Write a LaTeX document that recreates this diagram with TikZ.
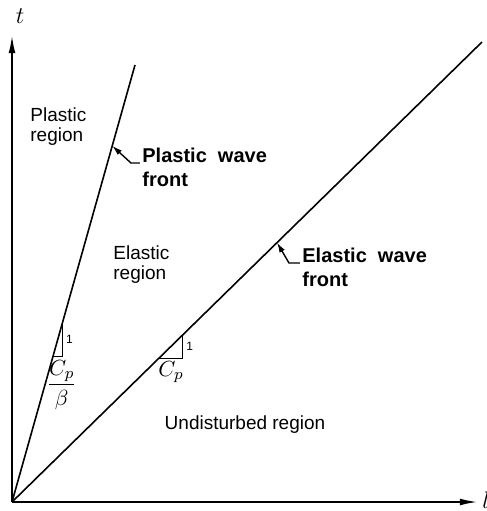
\documentclass[tikz,border=0pt]{standalone}
\usepackage{amsmath}
\usepackage{fontspec}
\setmainfont{Liberation Sans}
\usetikzlibrary{arrows.meta,positioning,calc}

\tikzset{
    wfAxis/.style={-{Latex[length=9pt,width=3.4pt]}, line width=1pt},
    wfFront/.style={line width=0.8pt},
    wfRegion/.style={
        font=\fontsize{9.5}{10}\selectfont,
        align=left,
        inner sep=0pt,
        anchor=north west
    },
    wfFrontLabel/.style={
        font=\fontsize{10}{12}\selectfont\bfseries,
        align=left,
        inner sep=0pt,
        anchor=north west
    },
    wfPointer/.style={{Latex[length=5pt,width=3pt]}-, line width=0.7pt},
    wfSlope/.style={line width=0.5pt},
    wfUnit/.style={font=\fontsize{6}{6}\selectfont, inner sep=0.5pt},
    wfSpeed/.style={font=\fontsize{11}{12}\selectfont, inner sep=0.5pt}
}

\begin{document}
\begin{tikzpicture}[x=0.5pt, y=-0.5pt]
    \useasboundingbox (0,0) rectangle (487,511);
    % axes
    \coordinate (O) at (12,502);
    \coordinate (tTip) at (12,35);
    \coordinate (xTip) at (478,502);
    \draw[wfAxis] (O) -- (tTip);
    \draw[wfAxis] (O) -- (xTip);
    \node[font=\large] (tLabel) at (20,16) {$t$};
    \node[font=\large, anchor=west, inner sep=0pt] (xLabel) at (482,500) {$l$};
    % wave fronts
    \coordinate (plTop) at (135,65);
    \coordinate (elTop) at (482,42);
    \draw[wfFront] (O) -- (plTop);
    \draw[wfFront] (O) -- (elTop);
    % regions
    \node[wfRegion] (plRegion) at (30,107) {Plastic\\region};
    \node[wfRegion] (elRegion) at (113,245) {Elastic\\region};
    \node[font=\fontsize{9.5}{10}\selectfont] (undRegion) at (245,425) {Undisturbed region};
    % front labels with leaders
    \node[wfFrontLabel] (plFront) at (142,148) {Plastic\ \ wave\\front};
    \coordinate (plTip) at ($(O)!0.815!(plTop)$);
    \coordinate (plKnee) at (131,163);
    \draw[wfPointer] (plTip) -- (plKnee) -- ([xshift=-1pt]plFront.west |- plKnee);
    \node[wfFrontLabel] (elFront) at (302,248) {Elastic\ \ wave\\front};
    \coordinate (elTip) at ($(O)!0.564!(elTop)$);
    \coordinate (elKnee) at (289,263);
    \draw[wfPointer] (elTip) -- (elKnee) -- ([xshift=-1pt]elFront.west |- elKnee);
    % slope triangles
    \coordinate (plTriA) at ($(O)!0.332!(plTop)$);
    \coordinate (plTriB) at ($(O)!0.412!(plTop)$);
    \coordinate (plCorner) at (plTriB |- plTriA);
    \draw[wfSlope] (plTriB) -- (plCorner) -- (plTriA);
    \coordinate (plLegMid) at ($(plTriB)!0.5!(plCorner)$);
    \coordinate (plBaseMid) at ($(plTriA)!0.5!(plCorner)$);
    \node[wfUnit, right=1pt of plLegMid] (plOne) {1};
    \node[wfSpeed, below=1pt of plBaseMid, xshift=2pt] (plSpeed) {$\dfrac{C_p}{\beta}$};
    \coordinate (elTriA) at ($(O)!0.3128!(elTop)$);
    \coordinate (elTriB) at ($(O)!0.3638!(elTop)$);
    \coordinate (elCorner) at (elTriB |- elTriA);
    \draw[wfSlope] (elTriB) -- (elCorner) -- (elTriA);
    \coordinate (elLegMid) at ($(elTriB)!0.5!(elCorner)$);
    \coordinate (elBaseMid) at ($(elTriA)!0.5!(elCorner)$);
    \node[wfUnit, right=1pt of elLegMid] (elOne) {1};
    \node[wfSpeed, below=1pt of elBaseMid] (elSpeed) {$C_p$};
\end{tikzpicture}
\end{document}
